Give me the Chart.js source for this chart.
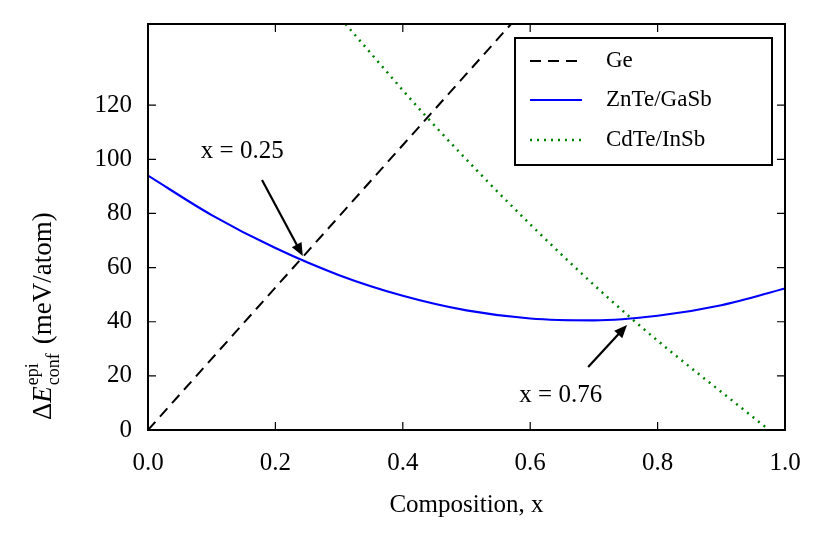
<!DOCTYPE html>
<html><head><meta charset="utf-8">
<script src="https://cdn.jsdelivr.net/npm/chart.js@4/dist/chart.umd.min.js"></script>
<style>body{margin:0;background:#fff}#wrap{width:830px;height:545px}</style>
</head><body><div id="wrap"><canvas id="c"></canvas></div>
<script>
// curves
var geX = [0, 0.57];
var geY = [0, 150];
var znX = [0, 0.1, 0.2, 0.3, 0.4, 0.5, 0.6, 0.7, 0.8, 0.9, 1.0];
var znY = [94, 79.4, 67.2, 57.2, 49.6, 44.2, 41.2, 40.5, 42.2, 46.1, 52.3];
var cdX = [0.31, 0.44, 0.6, 0.76, 0.975];
var cdY = [150, 115, 76, 41, 0];
var labels = ['Ge', 'ZnTe/GaSb', 'CdTe/InSb'];
var notes = [
  {text: 'x = 0.25', tx: 0.148, ty: 103, from: [0.179, 92.4], to: [0.243, 64.3]},
  {text: 'x = 0.76', tx: 0.648, ty: 12.9, from: [0.691, 23.3], to: [0.752, 38.8]}
];

function pts(xs, ys) { return xs.map(function (x, i) { return {x: x, y: ys[i]}; }); }
var SERIF = '"Liberation Serif", "DejaVu Serif", serif';

var deco = {
  id: 'deco',
  afterDraw: function (chart) {
    var ctx = chart.ctx, a = chart.chartArea, xs = chart.scales.x, ys = chart.scales.y;
    ctx.save();
    ctx.strokeStyle = '#000'; ctx.lineWidth = 2;
    ctx.strokeRect(a.left, a.top, a.right - a.left, a.bottom - a.top);
    ctx.lineWidth = 1.2;
    xs.ticks.forEach(function (t) {
      var p = xs.getPixelForValue(t.value);
      ctx.beginPath(); ctx.moveTo(p, a.bottom); ctx.lineTo(p, a.bottom - 8);
      ctx.moveTo(p, a.top); ctx.lineTo(p, a.top + 8); ctx.stroke();
    });
    ys.ticks.forEach(function (t) {
      var p = ys.getPixelForValue(t.value);
      ctx.beginPath(); ctx.moveTo(a.left, p); ctx.lineTo(a.left + 8, p);
      ctx.moveTo(a.right, p); ctx.lineTo(a.right - 8, p); ctx.stroke();
    });
    ctx.fillStyle = '#000'; ctx.font = '25px ' + SERIF;
    ctx.textAlign = 'center'; ctx.textBaseline = 'middle';
    notes.forEach(function (n) {
      ctx.fillText(n.text, xs.getPixelForValue(n.tx), ys.getPixelForValue(n.ty));
      var x1 = xs.getPixelForValue(n.from[0]), y1 = ys.getPixelForValue(n.from[1]);
      var x2 = xs.getPixelForValue(n.to[0]), y2 = ys.getPixelForValue(n.to[1]);
      var ang = Math.atan2(y2 - y1, x2 - x1), hl = 14;
      ctx.lineWidth = 2.2;
      ctx.beginPath(); ctx.moveTo(x1, y1);
      ctx.lineTo(x2 - Math.cos(ang) * 8, y2 - Math.sin(ang) * 8); ctx.stroke();
      ctx.beginPath(); ctx.moveTo(x2, y2);
      ctx.lineTo(x2 - hl * Math.cos(ang - 0.4), y2 - hl * Math.sin(ang - 0.4));
      ctx.lineTo(x2 - hl * Math.cos(ang + 0.4), y2 - hl * Math.sin(ang + 0.4));
      ctx.closePath(); ctx.fill();
    });
    // legend
    ctx.fillStyle = '#fff'; ctx.fillRect(515, 38, 257, 127);
    ctx.lineWidth = 2; ctx.strokeStyle = '#000'; ctx.strokeRect(515, 38, 257, 127);
    var rows = [61, 100, 140];
    ctx.font = '23px ' + SERIF;
    chart.data.datasets.forEach(function (ds, i) {
      ctx.strokeStyle = ds.borderColor; ctx.lineWidth = ds.borderWidth;
      ctx.setLineDash(ds.borderDash || []);
      ctx.beginPath(); ctx.moveTo(530, rows[i]); ctx.lineTo(582, rows[i]); ctx.stroke();
      ctx.setLineDash([]);
      ctx.fillStyle = '#000'; ctx.textAlign = 'left';
      ctx.fillText(ds.label, 606, rows[i]);
    });
    // axis titles
    ctx.font = '25px ' + SERIF;
    ctx.textAlign = 'center';
    ctx.fillText('Composition, x', (a.left + a.right) / 2, 505);
    ctx.translate(44, 240); ctx.rotate(-Math.PI / 2);
    ctx.textAlign = 'left';
    var x0 = -180;
    ctx.font = '27px ' + SERIF; ctx.fillText('\u0394', x0, 0); x0 += ctx.measureText('\u0394').width;
    ctx.font = 'italic 27px ' + SERIF; ctx.fillText('E', x0, 0); x0 += ctx.measureText('E').width + 1;
    ctx.font = '18px ' + SERIF; ctx.fillText('epi', x0, -11); ctx.fillText('conf', x0, 10);
    x0 += ctx.measureText('conf').width + 9;
    ctx.font = '27px ' + SERIF; ctx.fillText('(meV/atom)', x0, 0);
    ctx.restore();
  }
};

new Chart(document.getElementById('c'), {
  type: 'line',
  data: {datasets: [
    {label: labels[0], data: pts(geX, geY), borderColor: '#000', borderWidth: 2, borderDash: [11, 7]},
    {label: labels[1], data: pts(znX, znY), borderColor: '#0000ff', borderWidth: 2.2, cubicInterpolationMode: 'monotone'},
    {label: labels[2], data: pts(cdX, cdY), borderColor: '#008000', borderWidth: 2.5, borderDash: [2, 5], cubicInterpolationMode: 'monotone'}
  ]},
  options: {
    responsive: true, maintainAspectRatio: false, animation: false,
    elements: {point: {radius: 0}},
    layout: {padding: {left: 0, right: 45, top: 24, bottom: 0}},
    plugins: {legend: {display: false}, tooltip: {enabled: false}},
    scales: {
      x: {type: 'linear', min: 0, max: 1,
        grid: {display: false}, border: {display: false},
        afterFit: function (s) { s.height = 115; },
        ticks: {stepSize: 0.2, color: '#000', padding: 10, font: {family: SERIF, size: 25},
          callback: function (v) { return v.toFixed(1); }}},
      y: {min: 0, max: 150,
        grid: {display: false}, border: {display: false},
        afterFit: function (s) { s.width = 148; },
        ticks: {stepSize: 20, color: '#000', padding: 8, font: {family: SERIF, size: 25},
          callback: function (v) { return v > 140 ? '' : v; }}}
    }
  },
  plugins: [deco]
});
</script></body></html>
